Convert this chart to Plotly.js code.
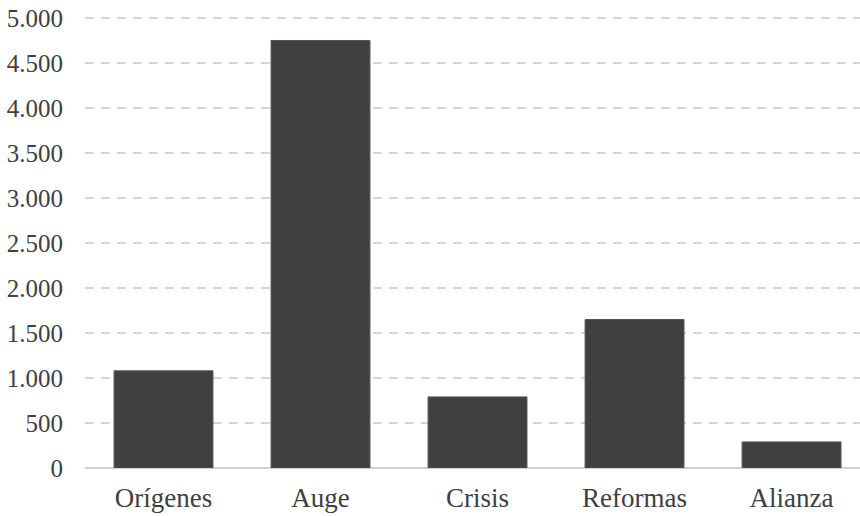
<!DOCTYPE html>
<html>
<head>
<meta charset="utf-8">
<script src="https://cdn.plot.ly/plotly-3.0.1.min.js"></script>
<style>
  html, body { margin: 0; padding: 0; background: #ffffff; }
  #chart { width: 860px; height: 516px; }
</style>
</head>
<body>
<div id="chart"></div>
<script>
// Periods and their totals
const categories = ['Orígenes', 'Auge', 'Crisis', 'Reformas', 'Alianza'];
const values = [1080, 4750, 790, 1650, 290];
const yTicks = [0, 500, 1000, 1500, 2000, 2500, 3000, 3500, 4000, 4500, 5000];

const trace = {
  type: 'bar',
  x: categories,
  y: values,
  width: 0.63,
  marker: { color: '#404040', line: { color: '#555555', width: 1 } },
  hoverinfo: 'x+y'
};

const layout = {
  width: 860,
  height: 516,
  margin: { l: 85, r: 0, t: 15, b: 48 },
  paper_bgcolor: '#ffffff',
  plot_bgcolor: '#ffffff',
  separators: ',.',
  showlegend: false,
  font: { family: '"Liberation Serif", "Times New Roman", serif', color: '#404040' },
  xaxis: {
    type: 'category',
    range: [-0.5, 4.436],
    showgrid: false,
    showline: false,
    ticks: '',
    tickfont: { size: 27, color: '#404040' },
    ticklabelstandoff: 11
  },
  yaxis: {
    range: [0, 5033],
    tickvals: yTicks,
    tickformat: ',d',
    showgrid: true,
    gridcolor: '#d6d6d6',
    gridwidth: 2,
    griddash: '9px,7px',
    zeroline: true,
    zerolinecolor: '#d0d0d0',
    zerolinewidth: 2,
    showline: false,
    ticks: '',
    tickfont: { size: 25, color: '#404040' },
    ticklabelstandoff: 21
  }
};

Plotly.newPlot('chart', [trace], layout, { displayModeBar: false, staticPlot: true });
</script>
</body>
</html>
